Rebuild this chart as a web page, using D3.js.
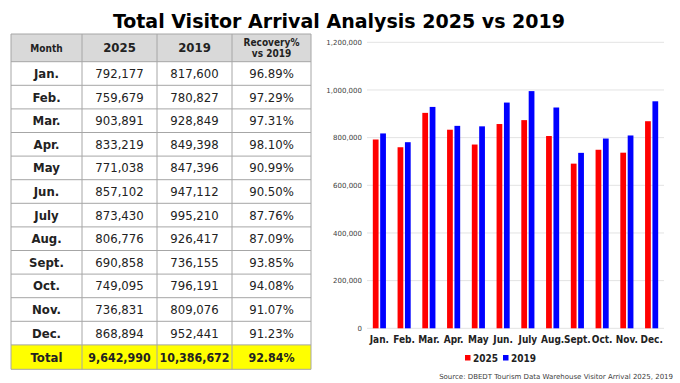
<!DOCTYPE html>
<html>
<head>
<meta charset="utf-8">
<script src="https://cdn.jsdelivr.net/npm/d3@7"></script>
<style>
  html, body { margin: 0; padding: 0; background: #fff; }
  svg { display: block; }
  text { font-family: "DejaVu Sans Condensed", "DejaVu Sans", Verdana, sans-serif; }
</style>
</head>
<body>
<svg id="chart" width="680" height="383"></svg>
<script>
// ---------- data ----------
const months = ["Jan.", "Feb.", "Mar.", "Apr.", "May", "Jun.", "July", "Aug.", "Sept.", "Oct.", "Nov.", "Dec."];
const arrivals2025 = [792177, 759679, 903891, 833219, 771038, 857102, 873430, 806776, 690858, 749095, 736831, 868894];
const arrivals2019 = [817600, 780827, 928849, 849398, 847396, 947112, 995210, 926417, 736155, 796191, 809076, 952441];
const recovery = ["96.89%", "97.29%", "97.31%", "98.10%", "90.99%", "90.50%", "87.76%", "87.09%", "93.85%", "94.08%", "91.07%", "91.23%"];
const totalRow = ["Total", "9,642,990", "10,386,672", "92.84%"];
const headerLabels = ["Month", "2025", "2019", ["Recovery%", "vs 2019"]];
const seriesNames = ["2025", "2019"];
const seriesColors = ["#ff0000", "#0000ff"];
const yTicks = [0, 200000, 400000, 600000, 800000, 1000000, 1200000];
const titleText = "Total Visitor Arrival Analysis 2025 vs 2019";
const sourceText = "Source: DBEDT Tourism Data Warehouse Visitor Arrival 2025, 2019";

const svg = d3.select("#chart");
const fmt = d3.format(",");

// ---------- title ----------
svg.append("text")
  .attr("x", 339).attr("y", 28)
  .attr("text-anchor", "middle")
  .attr("font-size", 20).attr("font-weight", "bold")
  .attr("textLength", 452).attr("lengthAdjust", "spacingAndGlyphs")
  .attr("fill", "#000")
  .text(titleText);

// ---------- table ----------
const colEdges = [11, 82, 157, 232, 311];
const headerTop = 34, headerBottom = 61.7, rowH = 23.6;
const totalTop = headerBottom + rowH * 12, totalBottom = totalTop + 24.4;
const tbl = svg.append("g");

// backgrounds
tbl.append("rect").attr("x", colEdges[0]).attr("y", headerTop)
  .attr("width", colEdges[4] - colEdges[0]).attr("height", headerBottom - headerTop)
  .attr("fill", "#d9d9d9");
tbl.append("rect").attr("x", colEdges[0]).attr("y", totalTop)
  .attr("width", colEdges[4] - colEdges[0]).attr("height", totalBottom - totalTop)
  .attr("fill", "#ffff00");

// grid lines
const rowLines = [headerTop, headerBottom];
for (let i = 1; i <= 12; i++) rowLines.push(headerBottom + rowH * i);
rowLines.push(totalBottom);
tbl.selectAll("line.h").data(rowLines).join("line")
  .attr("x1", colEdges[0]).attr("x2", colEdges[4])
  .attr("y1", d => d).attr("y2", d => d)
  .attr("stroke", "#a6a6a6").attr("stroke-width", 1);
tbl.selectAll("line.v").data(colEdges).join("line")
  .attr("x1", d => d).attr("x2", d => d)
  .attr("y1", headerTop).attr("y2", totalBottom)
  .attr("stroke", "#a6a6a6").attr("stroke-width", 1);

const colCenter = i => (colEdges[i] + colEdges[i + 1]) / 2;

// header text
headerLabels.forEach((lab, i) => {
  if (Array.isArray(lab)) {
    lab.forEach((l, j) => {
      tbl.append("text").attr("x", colCenter(i)).attr("y", headerTop + 11.5 + j * 11)
        .attr("text-anchor", "middle").attr("font-size", 10).attr("font-weight", "bold")
        .attr("fill", "#222").text(l);
    });
  } else {
    tbl.append("text").attr("x", colCenter(i)).attr("y", (headerTop + headerBottom) / 2 + 4)
      .attr("text-anchor", "middle")
      .attr("font-size", i === 0 ? 10 : 13).attr("font-weight", "bold")
      .attr("fill", "#222").text(lab);
  }
});

// body rows
months.forEach((m, r) => {
  const yc = headerBottom + rowH * r + rowH / 2 + 4.5;
  const cells = [m, fmt(arrivals2025[r]), fmt(arrivals2019[r]), recovery[r]];
  cells.forEach((c, i) => {
    tbl.append("text").attr("x", colCenter(i)).attr("y", yc)
      .attr("text-anchor", "middle").attr("font-size", 13)
      .attr("font-weight", i === 0 ? "bold" : "normal")
      .attr("fill", "#222").text(c);
  });
});
// total row
totalRow.forEach((c, i) => {
  tbl.append("text").attr("x", colCenter(i)).attr("y", (totalTop + totalBottom) / 2 + 4.5)
    .attr("text-anchor", "middle").attr("font-size", i === 0 ? 13 : 12.3).attr("font-weight", "bold")
    .attr("fill", "#222").text(c);
});

// ---------- bar chart ----------
const plotL = 367, plotR = 664, plotT = 42.3, plotB = 328.3;
const x0 = d3.scaleBand().domain(months).range([plotL, plotR]).paddingInner(0.47).paddingOuter(0.235);
const x1 = d3.scaleBand().domain(seriesNames).range([0, x0.bandwidth()]).paddingInner(0.22);
const y = d3.scaleLinear().domain([0, 1200000]).range([plotB, plotT]);

const chart = svg.append("g");

// gridlines
chart.selectAll("line.grid").data(yTicks).join("line")
  .attr("x1", plotL).attr("x2", plotR)
  .attr("y1", d => y(d)).attr("y2", d => y(d))
  .attr("stroke", "#e3e3e3").attr("stroke-width", 1);

// y axis
const yAxis = d3.axisLeft(y).tickValues(yTicks).tickFormat(fmt).tickSize(0).tickPadding(5);
const yg = chart.append("g").attr("transform", `translate(${plotL},0)`).call(yAxis);
yg.select(".domain").remove();
yg.selectAll("text").attr("font-size", 7).attr("fill", "#404040")
  .style("font-family", "'DejaVu Sans', Verdana, sans-serif");

// bars
const data = months.map((m, i) => ({ m, vals: [arrivals2025[i], arrivals2019[i]] }));
const groups = chart.selectAll("g.grp").data(data).join("g")
  .attr("transform", d => `translate(${x0(d.m)},0)`);
groups.selectAll("rect").data(d => d.vals.map((v, k) => ({ v, k }))).join("rect")
  .attr("x", d => x1(seriesNames[d.k]))
  .attr("width", x1.bandwidth())
  .attr("y", d => y(d.v))
  .attr("height", d => y(0) - y(d.v))
  .attr("fill", d => seriesColors[d.k]);

// x axis
const xAxis = d3.axisBottom(x0).tickSize(0).tickPadding(8);
const xg = chart.append("g").attr("transform", `translate(0,${plotB})`).call(xAxis);
xg.select(".domain").remove();
xg.selectAll("text").attr("font-size", 10).attr("font-weight", "bold").attr("fill", "#222")
  .style("font-family", "'DejaVu Sans Condensed', 'DejaVu Sans', sans-serif");

// legend
const legend = chart.append("g").attr("transform", "translate(465,358)");
seriesNames.forEach((s, i) => {
  const g = legend.append("g").attr("transform", `translate(${i * 38},0)`);
  g.append("rect").attr("x", 0).attr("y", -3).attr("width", 5.5).attr("height", 5.5).attr("fill", seriesColors[i]);
  g.append("text").attr("x", 8).attr("y", 3.8).attr("font-size", 10).attr("font-weight", "bold")
    .attr("fill", "#222").text(s);
});

// source
svg.append("text").attr("x", 673).attr("y", 379).attr("text-anchor", "end")
  .attr("font-size", 7).attr("fill", "#404040")
  .style("font-family", "'DejaVu Sans', Verdana, sans-serif")
  .text(sourceText);
</script>
</body>
</html>
